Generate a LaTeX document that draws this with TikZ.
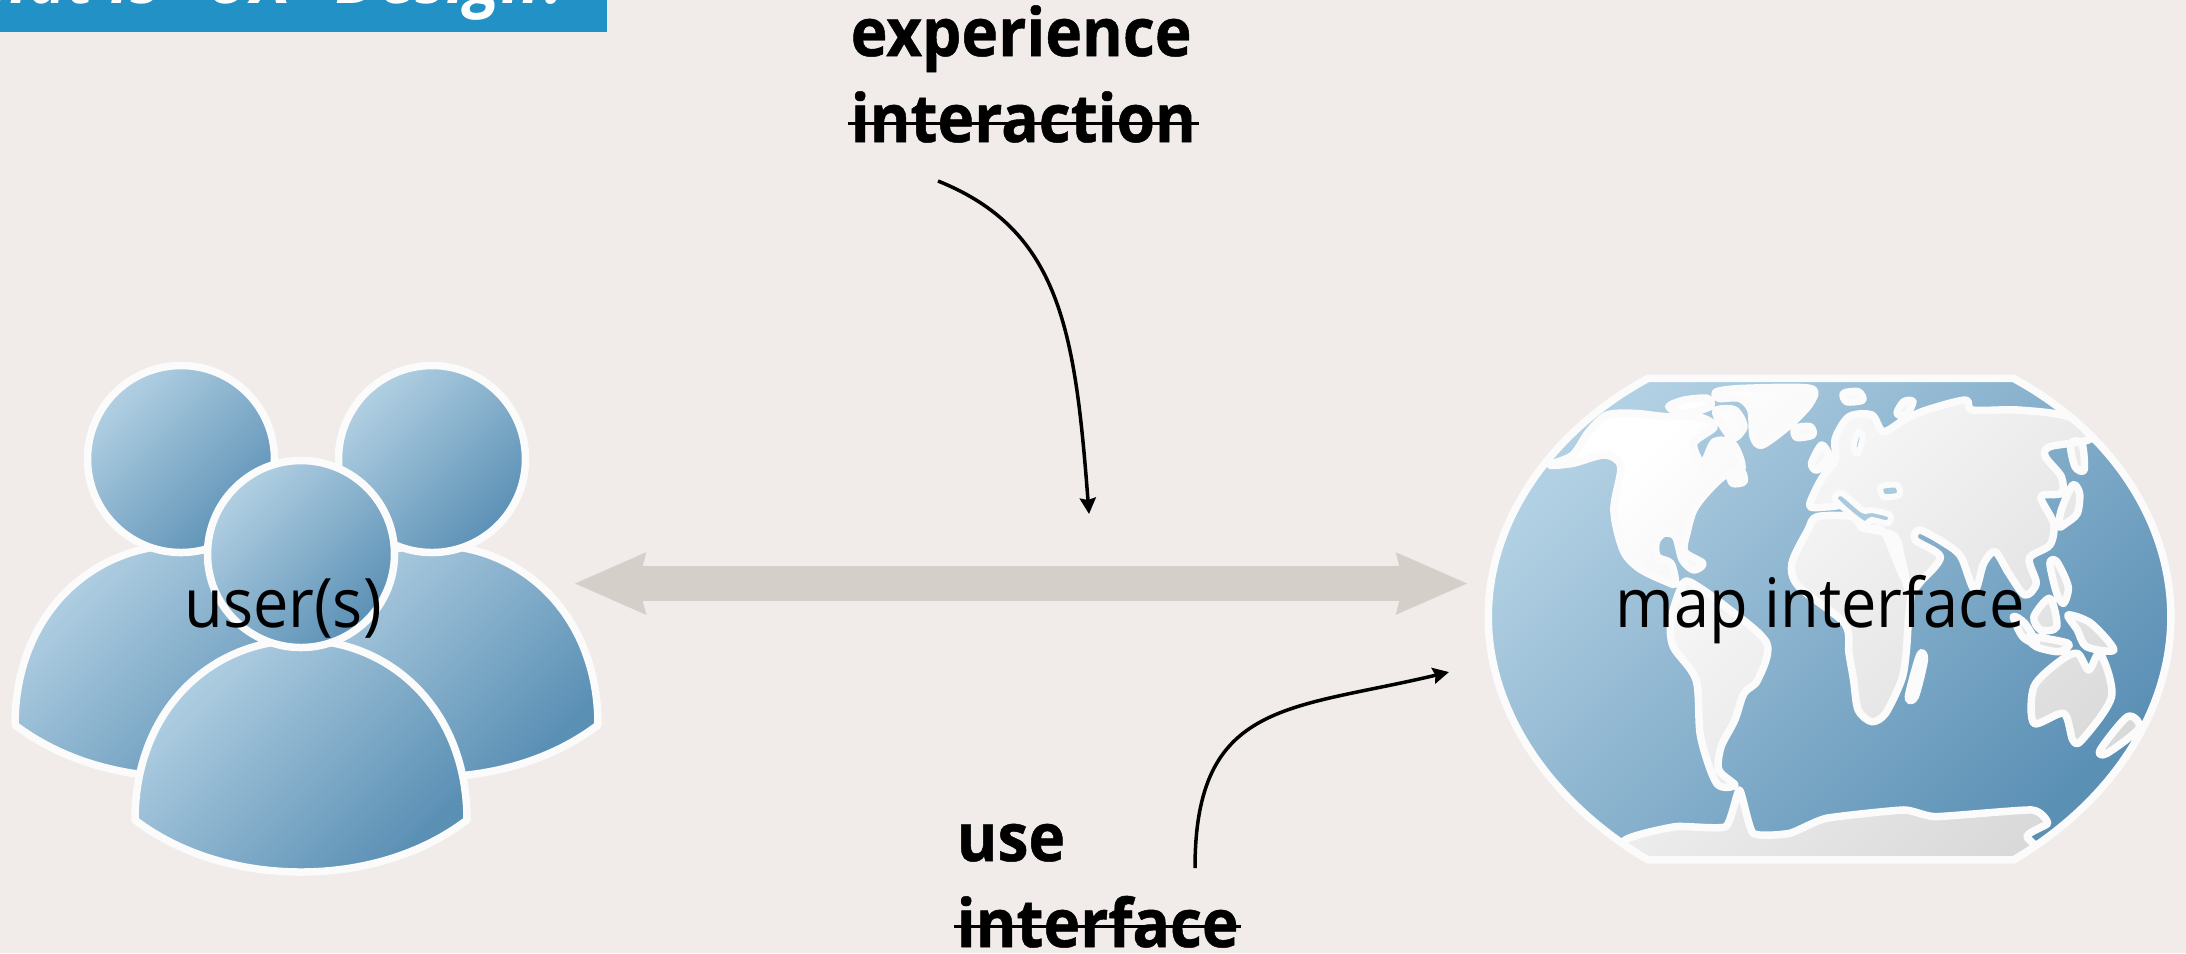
\documentclass[tikz,border=0pt]{standalone}
\usepackage{fontspec}
\usepackage{tikz}
\usetikzlibrary{arrows.meta}
\setmainfont[FakeStretch=0.925]{Open Sans}
\newfontfamily\keyfont[FakeStretch=0.93,BoldFeatures={FakeBold=0.7}]{Open Sans}
\definecolor{paper}{HTML}{F1ECE9}
\definecolor{banner}{HTML}{2291C5}
\definecolor{bluelight}{HTML}{B2D0E3}
\definecolor{bluedark}{HTML}{5B90B5}
\definecolor{linkgray}{HTML}{D4CFC9}
\definecolor{rim}{HTML}{FBFBFB}
\tikzset{%
	glossy/.style={%
		draw=rim,
		line width=0.75mm,
		line join=round,
		top color=bluelight,
		bottom color=bluedark,
		shading angle=45
	},
	land/.style={%
		draw=rim,
		line width=0.75mm,
		line join=round,
		top color=white,
		bottom color=black!15,
		shading angle=45
	},
	sea/.style={%
		draw=rim,
		line width=0.6mm,
		fill=bluelight!90!bluedark
	},
	caption/.style={%
		inner sep=0pt,
		anchor=base,
		text=black,
		font=\fontsize{19.4pt}{22pt}\selectfont
	},
	keyword/.style={%
		inner sep=0pt,
		anchor=base west,
		text=black,
		font=\keyfont\fontsize{19pt}{22pt}\selectfont\bfseries
	},
	strike/.style={%
		draw=black,
		line width=0.3mm
	},
	note/.style={%
		draw=black,
		line width=0.35mm,
		-{Stealth[length=1.6mm,width=1.6mm,inset=0.2mm]}
	},
	pics/person/.style={%
		code={%
			\path [glossy] (-166,180) .. controls (-166,70) and (-90,0) .. (0,0) .. controls (90,0) and (166,70) .. (166,180) .. controls (120,215) and (60,232) .. (0,232) .. controls (-60,232) and (-120,215) .. (-166,180) -- cycle;
			\path [glossy] (0,-86) circle [radius=93.5];
		}
	}
}

\begin{document}
\begin{tikzpicture}[x=0.01cm, y=-0.01cm]
	\useasboundingbox (0,0) rectangle (2186,953);
	\clip (0,0) rectangle (2186,953);
	\fill [paper] (0,0) rectangle (2186,953);

	% title bar
	\fill [banner] (0,-40) rectangle (607,32);
	\node [inner sep=0pt, anchor=base east, text=white, font=\fontsize{20pt}{24pt}\selectfont\bfseries\itshape] (title) at (571,3) {What is “UX” Design?};

	% users
	\pic at (181,545) {person};
	\pic at (432,545) {person};
	\pic at (301,640) {person};
	\node [caption] (users) at (283,627) {user(s)};

	% map
	\begin{scope}[shift={(1470,360)}, xscale=0.4566, yscale=0.3333]
		\path [fill=none, top color=bluelight, bottom color=bluedark, shading angle=45] (390,55) -- (1190,55) .. controls (1400,210) and (1535,480) .. (1535,770) .. controls (1535,1060) and (1400,1330) .. (1190,1500) -- (390,1500) .. controls (180,1330) and (40,1060) .. (40,770) .. controls (40,480) and (180,210) .. (390,55) -- cycle;
		\begin{scope}
			\clip (390,55) -- (1190,55) .. controls (1400,210) and (1535,480) .. (1535,770) .. controls (1535,1060) and (1400,1330) .. (1190,1500) -- (390,1500) .. controls (180,1330) and (40,1060) .. (40,770) .. controls (40,480) and (180,210) .. (390,55) -- cycle;
			\path [land]
				plot [smooth cycle, tension=0.5] coordinates {(175,315) (225,285) (260,215) (300,165) (360,160) (430,170) (500,170) (535,200) (490,250) (510,310) (535,245) (575,250) (595,310) (590,350) (560,345) (520,395) (490,450) (475,520) (470,575) (510,610) (490,630) (465,600) (450,530) (425,520) (408,545) (410,590) (440,610) (450,670) (430,665) (370,625) (335,570) (315,450) (330,320) (295,285) (225,310)}
				plot [smooth cycle, tension=0.5] coordinates {(480,665) (560,740) (650,850) (630,960) (600,1000) (580,1080) (550,1160) (545,1230) (580,1275) (540,1270) (505,1130) (495,960) (445,860) (440,780) (460,690)}
				plot [smooth cycle, tension=0.5] coordinates {(540,95) (600,85) (745,85) (745,130) (700,195) (640,255) (620,230) (615,150) (590,115) (545,115)}
				plot [smooth cycle, tension=0.5] coordinates {(435,140) (470,120) (520,115) (525,140) (470,160)}
				plot [smooth cycle, tension=0.5] coordinates {(540,150) (580,150) (600,200) (575,235) (545,180)}
				plot [smooth cycle, tension=0.5] coordinates {(570,340) (595,335) (600,365) (575,370)}
				plot [smooth cycle, tension=0.5] coordinates {(712,205) (745,200) (750,225) (715,232)}
				plot [smooth cycle, tension=0.5] coordinates {(818,100) (850,95) (860,120) (825,125)}
				plot [smooth cycle, tension=0.5] coordinates {(935,160) (950,125) (970,125) (955,165)}
				plot [smooth cycle, tension=0.5] coordinates {(770,255) (785,290) (760,330) (748,310)}
				plot [smooth cycle, tension=0.5] coordinates {(760,470) (840,470) (860,505) (905,515) (945,640) (965,690) (960,780) (955,880) (945,960) (910,1060) (880,1085) (850,1050) (840,960) (830,880) (820,790) (720,680) (705,610) (740,510)}
				plot [smooth cycle, tension=0.5] coordinates {(745,440) (755,395) (775,345) (800,300) (800,235) (830,170) (880,165) (905,215) (950,180) (1000,150) (1085,120) (1100,150) (1200,150) (1310,170) (1360,235) (1270,260) (1260,290) (1295,350) (1295,400) (1250,410) (1278,490) (1270,555) (1225,595) (1240,670) (1215,705) (1180,640) (1150,575) (1125,610) (1105,690) (1075,590) (1040,550) (985,510) (975,540) (1030,590) (990,660) (960,690) (935,540) (900,515) (860,500) (820,440) (790,440)}
				plot [smooth cycle, tension=0.5] coordinates {(1290,500) (1295,450) (1320,375) (1335,400) (1330,460) (1305,490)}
				plot [smooth cycle, tension=0.5] coordinates {(1315,250) (1340,250) (1345,330) (1325,320)}
				plot [smooth cycle, tension=0.5] coordinates {(1270,610) (1285,605) (1310,680) (1300,730) (1285,700)}
				plot [smooth cycle, tension=0.5] coordinates {(1235,770) (1270,715) (1285,800) (1250,810)}
				plot [smooth cycle, tension=0.5] coordinates {(1190,770) (1215,790) (1240,850) (1210,830)}
				plot [smooth cycle, tension=0.5] coordinates {(1225,830) (1310,850) (1290,875) (1240,860)}
				plot [smooth cycle, tension=0.5] coordinates {(1310,765) (1360,790) (1410,870) (1350,860) (1330,810)}
				plot [smooth cycle, tension=0.5] coordinates {(1235,1090) (1235,980) (1290,905) (1330,880) (1355,930) (1380,880) (1405,1010) (1340,1140) (1320,1140) (1300,1060)}
				plot [smooth cycle, tension=0.5] coordinates {(1380,1170) (1440,1070) (1465,1105) (1395,1180)}
				plot [smooth cycle, tension=0.5] coordinates {(960,1010) (985,885) (995,900) (975,1010)}
				plot [smooth cycle, tension=0.3] coordinates {(340,1440) (450,1400) (560,1400) (590,1290) (620,1420) (700,1420) (780,1375) (950,1350) (1020,1370) (1230,1350) (1265,1390) (1220,1430) (1260,1560) (300,1560)};
			\path [sea] plot [smooth cycle, tension=0.5] coordinates {(800,420) (815,400) (860,450) (880,450) (920,465) (915,490) (880,480) (860,490)};
			\path [sea] plot [smooth cycle, tension=0.5] coordinates {(900,380) (935,375) (940,405) (905,410)};
			\path [sea] plot [smooth cycle, tension=0.5] coordinates {(850,215) (860,230) (850,280) (840,260)};
			\path [sea] plot [smooth cycle, tension=0.5] coordinates {(925,525) (945,590) (955,650) (940,620)};
		\end{scope}
		\path [draw=rim, line width=0.75mm, line join=round] (390,55) -- (1190,55) .. controls (1400,210) and (1535,480) .. (1535,770) .. controls (1535,1060) and (1400,1330) .. (1190,1500) -- (390,1500) .. controls (180,1330) and (40,1060) .. (40,770) .. controls (40,480) and (180,210) .. (390,55) -- cycle;
	\end{scope}
	\node [caption] (mapface) at (1820,627) {map interface};

	% link between user and map
	\coordinate (linkL) at (574,583.5);
	\coordinate (linkR) at (1468,583.5);
	\draw [draw=linkgray, line width=3.5mm, {Stealth[length=7mm,width=5.8mm,inset=0.6mm]}-{Stealth[length=7mm,width=5.8mm,inset=0.6mm]}] (linkL) -- (linkR);

	% keywords
	\node [keyword] (experience) at (850,56) {experience};
	\node [keyword] (interaction) at (850,142) {interaction};
	\draw [strike] ([shift={(-0.02cm,0.19cm)}]interaction.base west) -- ([shift={(0.02cm,0.19cm)}]interaction.base east);
	\node [keyword] (use) at (956,861) {use};
	\node [keyword] (interface) at (956,947) {interface};
	\draw [strike] ([shift={(-0.02cm,0.21cm)}]interface.base west) -- ([shift={(0.02cm,0.21cm)}]interface.base east);

	% notes
	\coordinate (noteA) at (938,181);
	\coordinate (noteAend) at (1089,514);
	\coordinate (noteB) at (1195,868);
	\coordinate (noteBend) at (1449,672);
	\draw [note] (noteA) .. controls (1060,230) and (1075,330) .. (noteAend);
	\draw [note] (noteB) .. controls (1195,700) and (1290,710) .. (noteBend);
\end{tikzpicture}
\end{document}
